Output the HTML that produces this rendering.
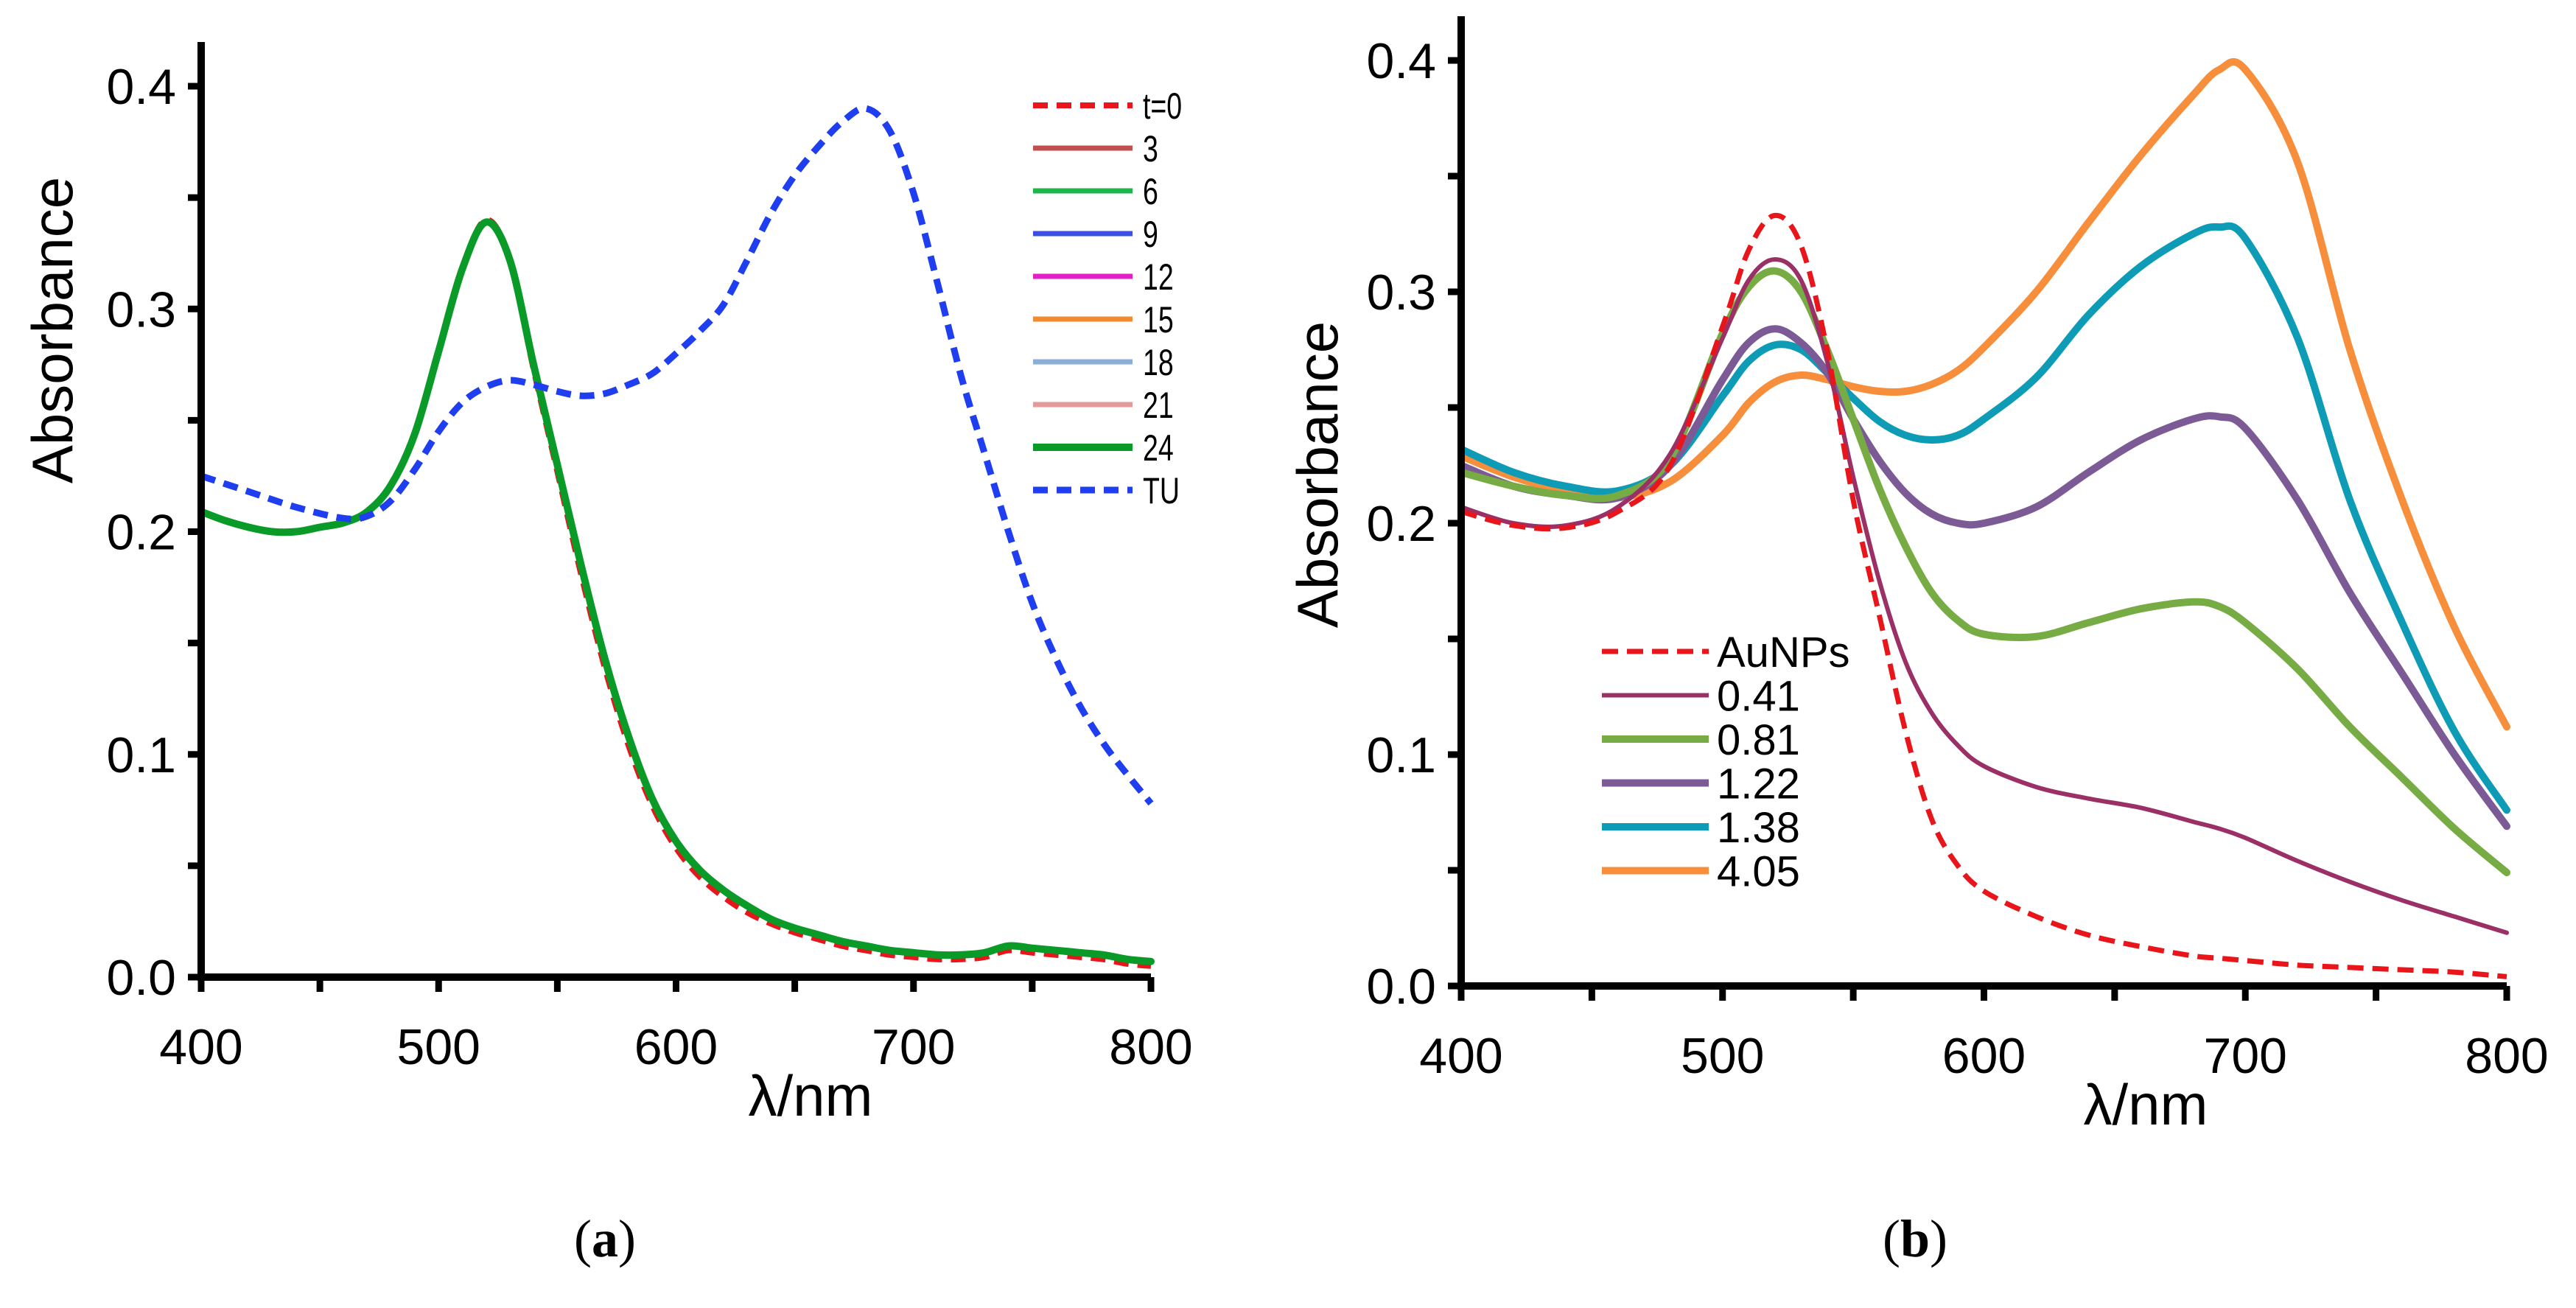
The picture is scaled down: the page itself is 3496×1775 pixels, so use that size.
<!DOCTYPE html>
<html><head><meta charset="utf-8"><style>
html,body{margin:0;padding:0;background:#fff;}
svg{display:block;font-family:"Liberation Sans",sans-serif;}
</style></head><body>
<svg id="fig" width="3496" height="1775" viewBox="0 0 3496 1775" xmlns="http://www.w3.org/2000/svg"></svg>
<script>
// ---- Panel (a) data ----
const aWl = [400,410,420,430,440,450,460,470,480,490,500,510,520,530,540,550,560,570,580,590,600,610,620,630,640,650,660,670,680,690,700,710,720,730,740,750,760,770,780,790,800];
const aT24 = [0.209,0.205,0.202,0.200,0.200,0.202,0.204,0.209,0.221,0.244,0.281,0.318,0.339,0.322,0.275,0.230,0.185,0.143,0.108,0.080,0.061,0.048,0.039,0.032,0.026,0.022,0.019,0.016,0.014,0.012,0.011,0.010,0.010,0.011,0.014,0.013,0.012,0.011,0.010,0.008,0.007];
const aT0  = [0.209,0.205,0.202,0.200,0.200,0.202,0.204,0.209,0.221,0.244,0.281,0.318,0.340,0.322,0.273,0.227,0.181,0.139,0.104,0.077,0.058,0.045,0.036,0.029,0.024,0.020,0.017,0.014,0.012,0.010,0.009,0.008,0.008,0.009,0.012,0.011,0.010,0.009,0.008,0.006,0.005];
const aTUwl = [400,420,440,460,470,480,490,500,510,520,530,540,550,560,570,580,590,600,610,620,630,640,650,660,670,680,690,700,710,720,730,740,750,760,770,780,790,800];
const aTU = [0.225,0.218,0.211,0.206,0.207,0.214,0.228,0.245,0.258,0.265,0.268,0.266,0.263,0.261,0.262,0.266,0.271,0.280,0.290,0.302,0.322,0.343,0.360,0.373,0.384,0.390,0.380,0.352,0.312,0.270,0.235,0.200,0.168,0.143,0.122,0.105,0.091,0.078];
const aLegendLabels = ["t=0","3","6","9","12","15","18","21","24","TU"];
// ---- Panel (b) data ----
const bWl = [400,420,440,460,480,500,510,520,530,540,550,560,570,580,590,600,620,640,660,680,690,700,720,740,760,780,800];
const bAu = [0.205,0.199,0.198,0.205,0.225,0.285,0.318,0.333,0.320,0.275,0.210,0.160,0.110,0.072,0.052,0.041,0.030,0.022,0.017,0.013,0.012,0.011,0.009,0.008,0.007,0.006,0.004];
const b041 = [0.207,0.200,0.199,0.207,0.230,0.280,0.305,0.314,0.305,0.270,0.220,0.175,0.140,0.118,0.104,0.095,0.086,0.081,0.077,0.071,0.068,0.064,0.054,0.045,0.037,0.030,0.023];
const b081 = [0.222,0.216,0.212,0.212,0.228,0.282,0.302,0.309,0.300,0.275,0.245,0.215,0.190,0.170,0.158,0.152,0.151,0.157,0.163,0.166,0.164,0.157,0.137,0.112,0.090,0.068,0.049];
const b122 = [0.225,0.216,0.212,0.211,0.225,0.262,0.278,0.284,0.278,0.265,0.245,0.227,0.213,0.204,0.200,0.200,0.207,0.222,0.236,0.245,0.246,0.241,0.210,0.170,0.135,0.100,0.069];
const b138 = [0.232,0.222,0.216,0.214,0.225,0.255,0.270,0.277,0.275,0.265,0.254,0.244,0.238,0.236,0.238,0.245,0.263,0.290,0.311,0.325,0.328,0.323,0.280,0.210,0.157,0.110,0.076];
const b405 = [0.229,0.220,0.214,0.211,0.218,0.238,0.252,0.261,0.264,0.262,0.259,0.257,0.257,0.260,0.266,0.276,0.300,0.330,0.359,0.385,0.396,0.396,0.356,0.275,0.210,0.155,0.112];
const bLegendLabels = ["AuNPs","0.41","0.81","1.22","1.38","4.05"];
const yTickLabels = ["0.0","0.1","0.2","0.3","0.4"];
const xTickLabels = ["400","500","600","700","800"];

const NS="http://www.w3.org/2000/svg";
const svg=document.getElementById('fig');
function mk(tag,attrs,parent){const e=document.createElementNS(NS,tag);for(const k in attrs)e.setAttribute(k,attrs[k]);(parent||svg).appendChild(e);return e;}
function smooth(pts){
  let d='M'+pts[0][0].toFixed(1)+','+pts[0][1].toFixed(1);
  for(let i=0;i<pts.length-1;i++){
    const p0=pts[Math.max(0,i-1)],p1=pts[i],p2=pts[i+1],p3=pts[Math.min(pts.length-1,i+2)];
    const c1x=p1[0]+(p2[0]-p0[0])/6,c1y=p1[1]+(p2[1]-p0[1])/6;
    const c2x=p2[0]-(p3[0]-p1[0])/6,c2y=p2[1]-(p3[1]-p1[1])/6;
    d+='C'+c1x.toFixed(1)+','+c1y.toFixed(1)+' '+c2x.toFixed(1)+','+c2y.toFixed(1)+' '+p2[0].toFixed(1)+','+p2[1].toFixed(1);
  }
  return d;
}

function panel(P){
  const g=mk('g',{});
  
  
  const X=v=>P.x0+(v-400)/400*(P.x1-P.x0);
  const Y=v=>P.y0+v/0.4*(P.y1-P.y0);
  P.series.forEach(s=>{
    const pts=s.wl.map((w,i)=>[X(w),Y(s.v[i])]);
    const p=mk('path',{d:smooth(pts),fill:'none',stroke:s.c,'stroke-width':s.w,'stroke-linejoin':'round','stroke-linecap':s.dash?'butt':'round'},g);
    if(s.dash)p.setAttribute('stroke-dasharray',s.dash);
    
    
  });
  const ax=mk('path',{d:`M${P.x0},${P.y1-60}V${P.y0}H${P.x1}`,fill:'none',stroke:'#000','stroke-width':10},g);
  
  
  for(let i=0;i<=8;i++){const v=i*0.05;const t=mk('line',{x1:P.x0-18,x2:P.x0,y1:Y(v),y2:Y(v),stroke:'#000','stroke-width':9},g);
    }
  for(let i=0;i<=8;i++){const w=400+i*50;const t=mk('line',{x1:X(w),x2:X(w),y1:P.y0,y2:P.y0+20,stroke:'#000','stroke-width':9},g);
    }
  yTickLabels.forEach((l,i)=>{const t=mk('text',{x:P.x0-34,y:Y(i*0.1)+24,'text-anchor':'end','font-size':68},g);t.textContent=l;
    });
  xTickLabels.forEach((l,i)=>{const t=mk('text',{x:X(400+i*100),y:P.y0+118,'text-anchor':'middle','font-size':68},g);t.textContent=l;
    });
  const xt=mk('text',{x:P.xtX,y:P.y0+188,'text-anchor':'middle','font-size':78},g);xt.textContent='λ/nm';
  
  const yt=mk('text',{x:0,y:0,'text-anchor':'middle','font-size':78,transform:`translate(${P.ytX},${P.ytY}) rotate(-90)`},g);yt.textContent='Absorbance';
  
  const pl=mk('text',{x:P.lblX,y:1705,'text-anchor':'middle','font-size':72,'font-family':'Liberation Serif, serif'},g);
  pl.innerHTML='(<tspan font-weight="bold">'+P.lbl+'</tspan>)';
  
  P.legend.forEach((e,i)=>{const y=P.lgY+i*P.lgDy;
    const l=mk('line',{x1:P.lgX1,x2:P.lgX2,y1:y,y2:y,stroke:e.c,'stroke-width':e.w},g);
    if(e.dash)l.setAttribute('stroke-dasharray',e.dash);
    
    const t=mk('text',{x:P.lgTx,y:y+P.lgFs*0.36,'font-size':P.lgFs},g);
    if(P.narrow)t.setAttribute('transform',`translate(${P.lgTx},0) scale(0.75,1) translate(${-P.lgTx},0)`);
    t.textContent=e.label;
    });
}

const aColors=['#e8151b','#c0504d','#1fb54a','#3b4fe0','#e41fc8','#f28a30','#8aaed6','#e59a9a','#0a9a28','#1e3ef0'];
const aWidths=[8,7,7,7,7,7,7,7,10,9];
const aData=[aT0,aT24,aT24,aT24,aT24,aT24,aT24,aT24,aT24,aTU];
const aSeries=aData.map((v,i)=>({id:'a-'+aLegendLabels[i],wl:i===9?aTUwl:aWl,v:v,c:aColors[i],w:aWidths[i],dash:(i===0||i===9)?'20,12':null}));
const aOrder=[1,2,3,4,5,6,7,0,8,9].map(i=>aSeries[i]);
panel({name:'panel-a',x0:273,x1:1562,y0:1326,y1:117,xtX:1100,ytX:98,ytY:448,lbl:'a',lblX:821,
  series:aOrder,
  legend:aSeries.map((s,i)=>({label:aLegendLabels[i],c:s.c,w:s.w,dash:s.dash})),
  lgX1:1402,lgX2:1537,lgTx:1551,lgY:143,lgDy:58,lgFs:50,narrow:true});

const bColors=['#e8151b','#9b3067','#77ab43','#7b5a96','#0e9bb5','#f68e3b'];
const bWidths=[7,6,10,10,10,10];
const bData=[bAu,b041,b081,b122,b138,b405];
const bSeries=bData.map((v,i)=>({id:'b-'+bLegendLabels[i],wl:bWl,v:v,c:bColors[i],w:bWidths[i],dash:i===0?'22,12':null}));
panel({name:'panel-b',x0:1983,x1:3402,y0:1338,y1:82,xtX:2912,ytX:1815,ytY:644,lbl:'b',lblX:2599,
  series:[bSeries[5],bSeries[4],bSeries[3],bSeries[2],bSeries[1],bSeries[0]],
  legend:bSeries.map((s,i)=>({label:bLegendLabels[i],c:s.c,w:s.w,dash:s.dash})),
  lgX1:2174,lgX2:2319,lgTx:2330,lgY:884,lgDy:59.5,lgFs:58,narrow:false});
</script>
</body></html>
